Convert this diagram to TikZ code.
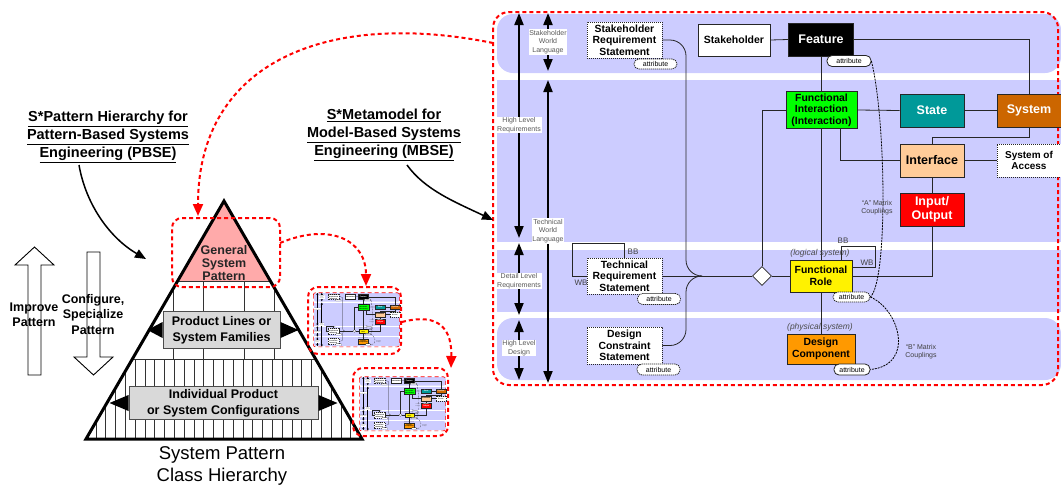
\documentclass[tikz,border=0pt]{standalone}
\usepackage{fontspec}
\setmainfont{Liberation Sans}
\usetikzlibrary{arrows.meta,shapes.geometric}
\definecolor{bandc}{RGB}{204,204,255}
\definecolor{greenc}{RGB}{0,255,0}
\definecolor{tealc}{RGB}{0,153,153}
\definecolor{brownc}{RGB}{204,102,0}
\definecolor{peachc}{RGB}{255,204,153}
\definecolor{orangec}{RGB}{255,153,0}
\definecolor{pinkc}{RGB}{255,170,170}
\definecolor{grayc}{RGB}{217,217,217}
\newcommand\fsz[2]{\fontsize{#1}{#2}\selectfont}
\def\pnlw{0.8pt}\def\pnthk{1.8pt}\def\pnr{16pt}\def\pnattr{5pt}\def\ahw{9pt}\def\ahl{12pt}\def\pnbw{2pt}
\tikzset{
 pline/.style={draw=black!85, line width=\pnlw},
 varr/.style={draw=black, line width=\pnthk, {Triangle[width=\ahw,length=\ahl]}-{Triangle[width=\ahw,length=\ahl]}},
 slabel/.style={fill=white, inner sep=0.8pt, align=center, text=black!65, font=\fsz{7}{8.5}},
 pbox/.style={draw=black!85, line width=\pnlw, inner sep=0pt, align=center, font=\fsz{10.4}{11.5}\bfseries},
 bigt/.style={font=\fsz{12.5}{14}\bfseries},
 dotb/.style={dash pattern=on 1.2pt off 0.8pt},
 attr/.style={draw=black!85, line width=\pnlw, fill=white, rounded corners=\pnattr, inner sep=0pt, font=\fsz{7}{8}},
 dline/.style={draw=black, line width=\pnlw, dash pattern=on 2pt off 1pt},
 tlab/.style={font=\fsz{8}{9}, text=black!75, inner sep=0pt},
 ital/.style={font=\fsz{8.5}{10}\itshape, text=black!70, inner sep=0pt},
 clab/.style={font=\fsz{7}{8}, text=black!75, align=center, inner sep=0pt},
 pnborder/.style={draw=red, line width=\pnbw, dash pattern=on 4pt off 3pt},
 reddash/.style={draw=red, line width=2pt, dash pattern=on 4pt off 3pt, rounded corners=10pt},
 redarr/.style={draw=red, line width=2pt, dash pattern=on 4pt off 3pt, -{Triangle[width=10pt,length=12pt]}},
 blkarr/.style={draw=black, line width=1.5pt, -{Triangle[width=9pt,length=11pt]}},
 title/.style={align=center, font=\fsz{14.5}{18}\bfseries},
 lbox/.style={draw=black!70, fill=grayc, line width=1pt, align=center, inner sep=0pt, font=\fsz{12.5}{16}\bfseries},
 hollow/.style={draw=black, fill=white, line width=0.9pt},
}
\newcommand\drawpanel{%
 \fill[bandc, rounded corners=\pnr] (497,14) rectangle (1061,73);
 \fill[bandc] (497,80) rectangle (1061,242);
 \fill[bandc] (497,250) rectangle (1061,312);
 \fill[bandc, rounded corners=\pnr] (497,318) rectangle (1061,380);
 \draw[pnborder, rounded corners=\pnr] (493,12) rectangle (1058,385);
 % scale arrows
 \coordinate (s1a) at (519,13); \coordinate (s1b) at (519,238);
 \coordinate (s2a) at (519,243); \coordinate (s2b) at (519,315);
 \coordinate (s3a) at (519,320); \coordinate (s3b) at (519,380);
 \coordinate (s4a) at (548,13); \coordinate (s4b) at (548,71);
 \coordinate (s5a) at (548,80); \coordinate (s5b) at (548,383);
 \draw[varr] (s1a) -- (s1b);
 \draw[varr] (s2a) -- (s2b);
 \draw[varr] (s3a) -- (s3b);
 \draw[varr] (s4a) -- (s4b);
 \draw[varr] (s5a) -- (s5b);
 \node[slabel] (l1) at (548,42) {Stakeholder\\World\\Language};
 \node[slabel] (l2) at (519,125) {High Level\\Requirements};
 \node[slabel] (l3) at (548,231) {Technical\\World\\Language};
 \node[slabel] (l4) at (519,281) {Detail Level\\Requirements};
 \node[slabel] (l5) at (519,348) {High Level\\Design};
 % nodes
 \node[pbox, dotb, fill=white, minimum width=75, minimum height=36] (srs) at (624.5,40) {Stakeholder\\Requirement\\Statement};
 \node[pbox, fill=white, minimum width=72, minimum height=32, font=\fsz{10.5}{12}\bfseries] (sh) at (734,40) {Stakeholder};
 \node[pbox, fill=black, text=white, bigt, minimum width=65, minimum height=33] (feat) at (821,39.5) {Feature};
 \node[pbox, fill=greenc, minimum width=71, minimum height=37] (fi) at (821.5,110) {Functional\\Interaction\\(Interaction)};
 \node[pbox, fill=tealc, text=white, bigt, minimum width=64, minimum height=33] (state) at (932,110.5) {State};
 \node[pbox, fill=brownc, text=white, bigt, minimum width=64, minimum height=33] (sys) at (1029,110.5) {System};
 \node[pbox, fill=peachc, bigt, minimum width=64, minimum height=33] (intf) at (932,160.5) {Interface};
 \node[pbox, dotb, fill=white, font=\fsz{10}{11.5}\bfseries, minimum width=64, minimum height=33] (soa) at (1029,160.5) {System of\\Access};
 \node[pbox, fill=red, text=white, bigt, minimum width=64, minimum height=33] (io) at (932,209.5) {Input/\\Output};
 \node[pbox, fill=yellow, minimum width=62, minimum height=32] (fr) at (821,276) {Functional\\Role};
 \node[pbox, fill=orangec, minimum width=68, minimum height=30] (dc) at (821,349) {Design\\Component};
 \node[pbox, dotb, fill=white, minimum width=75, minimum height=36] (trs) at (624.5,276) {Technical\\Requirement\\Statement};
 \node[pbox, dotb, fill=white, minimum width=75, minimum height=37] (dcs) at (624.5,345.5) {Design\\Constraint\\Statement};
 \node[diamond, draw=black!85, line width=\pnlw, fill=white, minimum width=19, minimum height=19, inner sep=0pt] (dia) at (762,276) {};
 % connectors
 \coordinate (jv) at (686,276); \coordinate (jn) at (700,276);
 \coordinate (fib) at (840,128.5);
 \coordinate (frl) at (841,260); \coordinate (frr) at (852,267);
 \draw[pline, rounded corners=\pnr] (srs.east) -| (jv) -- (jn);
 \draw[pline, rounded corners=\pnr] (dcs.east) -| (jv) -- (jn);
 \draw[pline] (trs.east) -- (dia.west);
 \draw[pline] (dia.east) -- (fr.west);
 \draw[pline] (dia.north) |- (fi.west);
 \draw[pline] (fr.east) -| (io.south);
 \draw[pline] (sh.east) -- (feat.west);
 \draw[pline] (feat.east) -| (sys.north);
 \draw[pline] (feat.south) -- (feat.south |- fi.north);
 \draw[pline] (fi.east) -- (state.west);
 \draw[pline] (state.east) -- (sys.west);
 \draw[pline] (fr.north |- fi.south) -- (fr.north);
 \draw[pline] (fib) |- (intf.west);
 \draw[pline] (sys.south) -- ++(0,10) -| (intf.north);
 \draw[pline] (intf.east) -- (soa.west);
 \draw[pline] (intf.south) -- (io.north);
 \draw[pline] (fr.south) -- (fr.south |- dc.north);
 \draw[pline] (trs.west) -- ++(-14,0) -- ++(0,-33) -| (trs.north);
 \draw[pline] (frl) -- ++(0,-14) -| ++(34,21) -- (frr);
 % attributes
 \node[attr, dotb, minimum width=43, minimum height=10] (srsa) at (655.5,64) {attribute};
 \node[attr, minimum width=44, minimum height=11] (feata) at (849,61) {attribute};
 \node[attr, dotb, minimum width=37, minimum height=10] (fra) at (851.5,297) {attribute};
 \node[attr, minimum width=36, minimum height=11] (dca) at (852,369.5) {attribute};
 \node[attr, dotb, minimum width=43, minimum height=11] (trsa) at (659,299) {attribute};
 \node[attr, dotb, minimum width=43, minimum height=11] (dcsa) at (658.5,369.5) {attribute};
 \draw[dline] (feata.east) .. controls (886,120) and (888,280) .. (fra.east);
 \draw[dline] (fra.east) .. controls (900,310) and (915,365) .. (dca.east);
 % labels
 \node[clab] (alab) at (877,208) {``A'' Matrix\\Couplings};
 \node[clab] (blab) at (921,352) {``B'' Matrix\\Couplings};
 \node[tlab] (bb1) at (633,252) {BB};
 \node[tlab] (wb1) at (581,283) {WB};
 \node[tlab] (bb2) at (843,241) {BB};
 \node[tlab] (wb2) at (867,263) {WB};
 \node[ital] (lsys) at (820,253) {(logical system)};
 \node[ital] (psys) at (820,327) {(physical system)};
}
\begin{document}
\begin{tikzpicture}[x=1pt,y=-1pt]
\useasboundingbox (0,0) rectangle (1061,485);
% thumbnails
\begin{scope}[shift={(238.5,291)}, xscale=0.152, yscale=0.145, transform shape]
 \def\pnlw{0.15pt}\def\pnthk{0.7pt}\def\pnr{2pt}\def\pnattr{0.8pt}\def\ahw{2pt}\def\ahl{2pt}\def\pnbw{0.6pt}
 \drawpanel
\end{scope}
\begin{scope}[shift={(284.5,375)}, xscale=0.152, yscale=0.145, transform shape]
 \def\pnlw{0.15pt}\def\pnthk{0.7pt}\def\pnr{2pt}\def\pnattr{0.8pt}\def\ahw{2pt}\def\ahl{2pt}\def\pnbw{0.6pt}
 \drawpanel
\end{scope}
% main panel
\drawpanel
% titles
\node[title] (pbse) at (108,137) {\underline{S*Pattern Hierarchy for}\\\underline{Pattern-Based Systems}\\\underline{Engineering (PBSE)}};
\node[title] (mbse) at (384,135) {\underline{S*Metamodel for}\\\underline{Model-Based Systems}\\\underline{Engineering (MBSE)}};
\coordinate (pa1) at (79,165); \coordinate (pa2) at (146,259);
\coordinate (ma1) at (407,165); \coordinate (ma2) at (493,220);
\draw[blkarr] (pa1) .. controls (86,205) and (110,238) .. (pa2);
\draw[blkarr] (ma1) .. controls (425,190) and (455,202) .. (ma2);
% hollow arrows
\draw[hollow] (28,375) -- (28,265) -- (15,265) -- (34.5,247) -- (54,265) -- (41,265) -- (41,375) -- cycle;
\draw[hollow] (87,252) -- (100,252) -- (100,357) -- (113,357) -- (93.5,375) -- (74,357) -- (87,357) -- cycle;
\node[align=center, font=\fsz{12.5}{15}\bfseries] (imp) at (34,315) {Improve\\Pattern};
\node[align=center, font=\fsz{12.5}{15.5}\bfseries] (conf) at (93,314.5) {Configure,\\Specialize\\Pattern};
% pyramid
\coordinate (apex) at (224,201); \coordinate (bl) at (86,439); \coordinate (br) at (362,439);
\fill[pinkc] (apex) -- (177.6,281) -- (270.4,281) -- cycle;
\begin{scope}
 \clip (apex) -- (bl) -- (br) -- cycle;
 \foreach \x in {173,203,244,274} \draw[black!80, line width=1pt] (\x,281) -- (\x,359);
 \foreach \x in {96,105.8,...,360} \draw[black!80, line width=1pt] (\x,359) -- (\x,439);
 \draw[black!80, line width=1pt] (80,281) -- (370,281);
 \draw[black!80, line width=1pt] (80,359) -- (370,359);
\end{scope}
\node[lbox, minimum width=117, minimum height=37] (pl) at (221.5,330) {Product Lines or\\System Families};
\node[lbox, minimum width=189, minimum height=33] (ip) at (223.5,403) {Individual Product\\or System Configurations};
\fill[black] (pl.west) ++(0,-8) -- ++(-15,8) -- ++(15,8) -- cycle;
\fill[black] (pl.east) ++(0,-8) -- ++(18,8) -- ++(-18,8) -- cycle;
\fill[black] (ip.west) ++(0,-8) -- ++(-19,8) -- ++(19,8) -- cycle;
\fill[black] (ip.east) ++(0,-8) -- ++(19,8) -- ++(-19,8) -- cycle;
\draw[black, line width=3pt, line join=miter] (apex) -- (bl) -- (br) -- cycle;
\node[align=center, font=\fsz{12.5}{13}\bfseries, text=black!85] (gsp) at (224,263) {General\\System\\Pattern};
\node[align=center, font=\fsz{18.5}{22}] (sph) at (222,466) {System Pattern\\Class Hierarchy};
% red frames
\node[reddash, minimum width=108, minimum height=69] (gspbox) at (226,252.5) {};
\node[reddash, minimum width=93, minimum height=67] (th1) at (354.5,320.5) {};
\node[reddash, minimum width=95, minimum height=68] (th2) at (400.5,402) {};
\coordinate (r1a) at (493,43); \coordinate (r1b) at (198,216);
\coordinate (r2a) at (280,243); \coordinate (r2b) at (366,286);
\coordinate (r3a) at (402,322); \coordinate (r3b) at (451,368);
\draw[redarr] (r1a) .. controls (330,10) and (198,60) .. (r1b);
\draw[redarr] (r2a) .. controls (330,222) and (366,240) .. (r2b);
\draw[redarr] (r3a) .. controls (440,312) and (452,330) .. (r3b);
\end{tikzpicture}
\end{document}
